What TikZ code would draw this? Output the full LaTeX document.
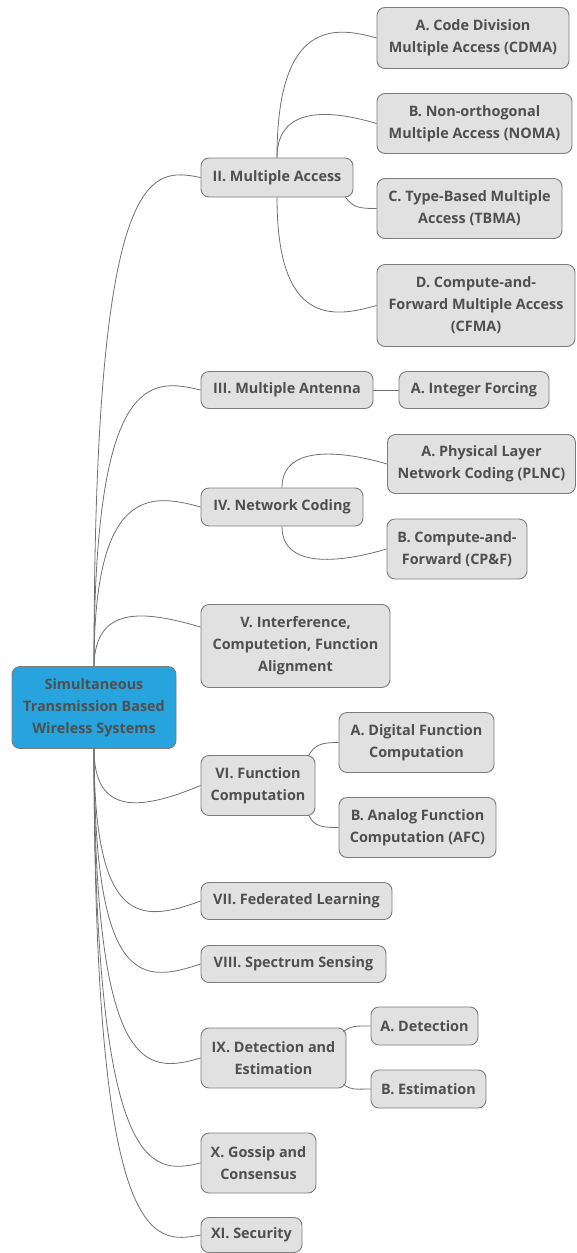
\documentclass[tikz,border=0pt]{standalone}
\usepackage{fontspec}
\setmainfont{Open Sans}
\usepackage{tikz}
\usetikzlibrary{calc}
\definecolor{boxfill}{HTML}{E1E1E1}
\definecolor{boxline}{HTML}{7C7C7C}
\definecolor{txtgray}{HTML}{4F4F4F}
\definecolor{rootblue}{HTML}{27A4DD}
\definecolor{linkgray}{HTML}{707070}
\tikzset{
  topic/.style={draw=boxline, fill=boxfill, line width=0.9pt, rounded corners=8pt,
    text=txtgray, align=center, inner sep=0pt,
    font=\fontsize{14.4}{22}\selectfont\bfseries},
  link/.style={draw=linkgray, line width=0.8pt}
}
\begin{document}
\begin{tikzpicture}[x=1pt,y=1pt]
        \useasboundingbox (0,0) rectangle (576,-1253);
        \node[topic, fill=rootblue, minimum width=164pt, minimum height=82pt] (root) at (94,-707.5) {Simultaneous\\Transmission Based\\Wireless Systems};
        \node[topic, minimum width=152pt, minimum height=39pt] (ma) at (277,-177.5) {II. Multiple Access};
        \node[topic, minimum width=192pt, minimum height=61pt] (ma1) at (473,-38) {A. Code Division\\Multiple Access (CDMA)};
        \node[topic, minimum width=195pt, minimum height=60pt] (ma2) at (474.5,-123.5) {B. Non-orthogonal\\Multiple Access (NOMA)};
        \node[topic, minimum width=185pt, minimum height=60pt] (ma3) at (469.5,-208.5) {C. Type-Based Multiple\\Access (TBMA)};
        \node[topic, minimum width=198pt, minimum height=82pt] (ma4) at (476,-305.5) {D. Compute-and-\\Forward Multiple Access\\(CFMA)};
        \node[topic, minimum width=172pt, minimum height=37pt] (ant) at (287,-390) {III. Multiple Antenna};
        \node[topic, minimum width=150pt, minimum height=37pt] (ant1) at (474,-390) {A. Integer Forcing};
        \node[topic, minimum width=162pt, minimum height=38pt] (nc) at (282,-507) {IV. Network Coding};
        \node[topic, minimum width=188pt, minimum height=59pt] (nc1) at (481.5,-464) {A. Physical Layer\\Network Coding (PLNC)};
        \node[topic, minimum width=140pt, minimum height=60pt] (nc2) at (457,-549) {B. Compute-and-\\Forward (CP\&F)};
        \node[topic, minimum width=189pt, minimum height=83pt] (ia) at (295.5,-646) {V. Interference,\\Computetion, Function\\Alignment};
        \node[topic, minimum width=114pt, minimum height=60pt] (fc) at (258,-785.5) {VI. Function\\Computation};
        \node[topic, minimum width=155pt, minimum height=60pt] (fc1) at (416.5,-742.5) {A. Digital Function\\Computation};
        \node[topic, minimum width=157pt, minimum height=60pt] (fc2) at (417.5,-827.5) {B. Analog Function\\Computation (AFC)};
        \node[topic, minimum width=191pt, minimum height=37pt] (fl) at (296.5,-901) {VII. Federated Learning};
        \node[topic, minimum width=185pt, minimum height=37pt] (ss) at (293.5,-964) {VIII. Spectrum Sensing};
        \node[topic, minimum width=145pt, minimum height=60pt] (de) at (273.5,-1058) {IX. Detection and\\Estimation};
        \node[topic, minimum width=107pt, minimum height=38pt] (de1) at (424.5,-1026) {A. Detection};
        \node[topic, minimum width=115pt, minimum height=38pt] (de2) at (428.5,-1089) {B. Estimation};
        \node[topic, minimum width=115pt, minimum height=60pt] (gc) at (258.5,-1163) {X. Gossip and\\Consensus};
        \node[topic, minimum width=101pt, minimum height=35pt] (sec) at (251.5,-1235) {XI. Security};
        \draw[link] (root.north) .. controls +(0,506) and +(-50,10) .. (ma.west);
        \draw[link] (root.north) .. controls +(0,295) and +(-50,12) .. (ant.west);
        \draw[link] (root.north) .. controls +(0,180) and +(-50,14) .. (nc.west);
        \draw[link] (root.north) .. controls +(1,62) and +(-55,16) .. ([yshift=19pt]ia.west);
        \draw[link] (root.south) .. controls +(0,-67) and +(-60,-25) .. (fc.west);
        \draw[link] (root.south) .. controls +(0,-178) and +(-60,-22) .. (fl.west);
        \draw[link] (root.south) .. controls +(0,-238) and +(-60,-20) .. (ss.west);
        \draw[link] (root.south) .. controls +(0,-328) and +(-55,-16) .. (de.west);
        \draw[link] (root.south) .. controls +(0,-428) and +(-50,-12) .. (gc.west);
        \draw[link] (root.south) .. controls +(0,-497) and +(-50,-10) .. (sec.west);
        \draw[link] (ma.north) .. controls +(0,138) and +(-42,12) .. (ma1.west);
        \draw[link] (ma.north) .. controls +(0,55) and +(-40,12) .. (ma2.west);
        \draw[link] ([xshift=-8pt]ma.south east) .. controls +(8,-10) and +(-18,0) .. (ma3.west);
        \draw[link] (ma.south) .. controls +(0,-130) and +(-42,-12) .. (ma4.west);
        \draw[link] (ant.east) -- (ant1.west);
        \draw[link] (nc.north) .. controls +(0,45) and +(-40,12) .. (nc1.west);
        \draw[link] (nc.south) .. controls +(0,-45) and +(-40,-12) .. (nc2.west);
        \draw[link] ([xshift=-7pt,yshift=-1pt]fc.north east) .. controls +(6,12) and +(-16,0) .. (fc1.west);
        \draw[link] ([xshift=-7pt,yshift=1pt]fc.south east) .. controls +(6,-12) and +(-16,0) .. (fc2.west);
        \draw[link] ([xshift=-3pt,yshift=-4pt]de.north east) .. controls +(8,6) and +(-15,0) .. (de1.west);
        \draw[link] ([xshift=-3pt,yshift=4pt]de.south east) .. controls +(8,-6) and +(-15,0) .. (de2.west);
\end{tikzpicture}
\end{document}
